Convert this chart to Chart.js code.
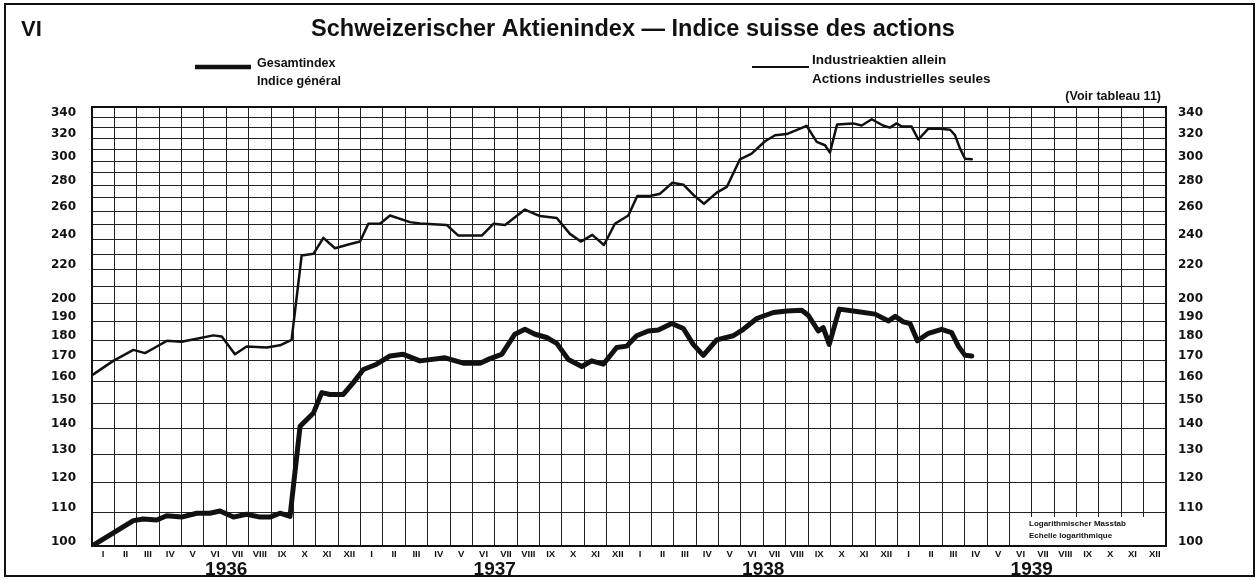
<!DOCTYPE html>
<html>
<head>
<meta charset="utf-8">
<script src="https://cdn.jsdelivr.net/npm/chart.js@4"></script>
<style>
  html, body { margin: 0; padding: 0; background: #fff; }
  #wrap { position: relative; width: 1257px; height: 580px; }
</style>
</head>
<body>
<div id="wrap"><canvas id="chart" width="1257" height="580"></canvas></div>
<script>
// month labels under each column, years under each block of 12
const months = ['I', 'II', 'III', 'IV', 'V', 'VI', 'VII', 'VIII', 'IX', 'X', 'XI', 'XII']
const years = ['1936', '1937', '1938', '1939']

// log scale: grid every 10, labels every 10 up to 200 then every 20
const yGrid = [100, 110, 120, 130, 140, 150, 160, 170, 180, 190, 200, 210, 220, 230, 240, 250, 260, 270, 280, 290, 300, 310, 320, 330, 340, 350]
const yLabels = [100, 110, 120, 130, 140, 150, 160, 170, 180, 190, 200, 220, 240, 260, 280, 300, 320, 340]

// time in months since 1 Jan 1936, index values
const gesamtT = [0, 1.85, 2.29, 2.89, 3.34, 4.0, 4.68, 5.27, 5.72, 6.32, 6.91, 7.51, 7.96, 8.4, 8.85,
  9.3, 9.9, 10.27, 10.64, 11.23, 11.68, 12.13, 12.72, 13.32, 13.91, 14.66, 15.78, 16.6, 17.34, 17.79,
  18.31, 18.9, 19.35, 19.8, 20.32, 20.77, 21.29, 21.89, 22.33, 22.85, 23.45, 23.9, 24.34, 24.86, 25.31,
  25.91, 26.43, 26.87, 27.32, 27.92, 28.66, 29.11, 29.71, 30.45, 31.05, 31.72, 32.01, 32.46, 32.68, 32.95,
  33.4, 34.18, 35.0, 35.6, 35.9, 36.26, 36.56, 36.89, 37.38, 37.97, 38.42, 38.72, 39.02, 39.32]
const gesamtV = [100.0, 107.5, 108.0, 107.7, 109.0, 108.6, 109.8, 109.8, 110.5, 108.6, 109.5, 108.6, 108.6, 109.8, 108.8,
  140.7, 146.2, 154.9, 154.1, 154.1, 159.4, 165.5, 168.0, 172.0, 172.8, 169.6, 171.1, 168.5, 168.5, 170.7,
  172.8, 183.0, 185.6, 183.0, 181.3, 178.3, 170.3, 166.9, 169.6, 168.0, 176.2, 176.9, 182.2, 184.7, 185.2,
  188.7, 186.0, 177.8, 172.3, 180.1, 182.2, 185.6, 191.4, 194.7, 195.6, 196.0, 193.2, 184.7, 186.5, 177.8,
  196.6, 195.3, 193.8, 190.1, 192.6, 189.6, 188.7, 179.6, 183.5, 185.6, 183.8, 176.9, 172.3, 172.0]

const industrieT = [0.06, 0.95, 1.85, 2.37, 2.82, 3.34, 4.0, 4.68, 5.42, 5.8, 6.39, 6.91, 7.81, 8.4, 8.92,
  9.37, 9.9, 10.34, 10.86, 11.46, 11.98, 12.35, 12.87, 13.32, 14.21, 14.66, 15.85, 16.37, 17.42, 17.94,
  18.46, 19.35, 20.02, 20.77, 21.36, 21.85, 22.36, 22.88, 23.37, 23.97, 24.37, 24.94, 25.39, 25.94, 26.43,
  26.87, 27.35, 27.92, 28.37, 28.96, 29.48, 30.08, 30.53, 31.05, 31.94, 32.39, 32.76, 32.98, 33.3, 34.02,
  34.4, 34.85, 35.35, 35.66, 35.96, 36.19, 36.63, 36.93, 37.38, 37.9, 38.35, 38.57, 38.79, 39.02, 39.32]
const industrieV = [163.2, 169.6, 175.0, 173.4, 176.2, 179.6, 179.1, 180.7, 182.4, 181.8, 172.8, 176.7, 176.2, 177.3, 180.1,
  229.1, 230.2, 240.9, 233.9, 236.4, 238.4, 250.8, 250.8, 256.8, 252.0, 251.0, 250.0, 242.5, 242.5, 250.8,
  250.0, 261.2, 256.4, 255.0, 243.7, 238.4, 243.0, 236.1, 250.8, 256.8, 271.5, 271.5, 273.3, 282.0, 280.4,
  272.5, 265.6, 274.1, 278.6, 301.5, 306.4, 317.4, 322.9, 324.0, 331.7, 316.8, 313.8, 307.3, 333, 334,
  332, 338, 332, 330, 334, 331, 331, 319, 329, 329, 328, 323, 311, 302, 301.5]

const TXT = '"Liberation Sans", Arial, sans-serif'
const NUM = '"DejaVu Sans", sans-serif'
const INK = '#111'

// title, legend, notes and frames drawn around the plot
const decor = {
  id: 'decor',
  beforeDraw(chart) {
    const ctx = chart.ctx
    ctx.save()
    ctx.fillStyle = '#fff'
    ctx.fillRect(0, 0, chart.width, chart.height)
    ctx.restore()
  },
  afterDraw(chart) {
    const ctx = chart.ctx
    const a = chart.chartArea
    ctx.save()
    ctx.fillStyle = INK
    ctx.strokeStyle = INK

    // note box in the bottom right corner
    ctx.fillStyle = '#fff'
    ctx.fillRect(a.right - 141, a.bottom - 29, 141, 29)
    ctx.fillStyle = INK
    ctx.font = 'bold 8px ' + TXT
    ctx.textAlign = 'left'
    ctx.textBaseline = 'alphabetic'
    ctx.fillText('Logarithmischer Masstab', a.right - 137, a.bottom - 20)
    ctx.fillText('Echelle logarithmique', a.right - 137, a.bottom - 8)

    // plot frame
    ctx.lineWidth = 2
    ctx.strokeRect(a.left, a.top, a.right - a.left, a.bottom - a.top)

    // outer frame
    ctx.strokeRect(5, 4, chart.width - 8, chart.height - 8)

    // title
    ctx.font = 'bold 23.5px ' + TXT
    ctx.textAlign = 'center'
    ctx.fillText('Schweizerischer Aktienindex \u2014 Indice suisse des actions', 633, 36)
    ctx.textAlign = 'left'
    ctx.font = 'bold 22px ' + TXT
    ctx.fillText('VI', 21, 36)

    // legend
    ctx.lineCap = 'butt'
    ctx.lineWidth = 4.5
    ctx.beginPath(); ctx.moveTo(195, 67); ctx.lineTo(251, 67); ctx.stroke()
    ctx.lineWidth = 2
    ctx.beginPath(); ctx.moveTo(752, 67); ctx.lineTo(809, 67); ctx.stroke()

    ctx.font = 'bold 12.5px ' + TXT
    ctx.fillText('Gesamtindex', 257, 67)
    ctx.fillText('Indice g\u00e9n\u00e9ral', 257, 85)
    ctx.font = 'bold 13.5px ' + TXT
    ctx.fillText('Industrieaktien allein', 812, 64)
    ctx.fillText('Actions industrielles seules', 812, 83)
    ctx.font = 'bold 12.5px ' + TXT
    ctx.textAlign = 'right'
    ctx.fillText('(Voir tableau 11)', 1161, 100)
    ctx.restore()
  }
}

const points = (t, v) => t.map((x, i) => ({ x: x, y: v[i] }))

const fixTicks = (vals) => (scale) => {
  scale.ticks = vals.map(v => ({ value: v }))
}

const monthGrid = Array.from({ length: 49 }, (_, i) => i)
const monthMid = Array.from({ length: 48 }, (_, i) => i + 0.5)
const yearMid = years.map((_, i) => i * 12 + 6)

new Chart(document.getElementById('chart'), {
  type: 'line',
  data: {
    datasets: [
      {
        label: 'Gesamtindex',
        data: points(gesamtT, gesamtV),
        borderColor: INK,
        borderWidth: 5,
        pointRadius: 0,
        tension: 0,
        borderJoinStyle: 'round',
        borderCapStyle: 'round'
      },
      {
        label: 'Industrieaktien allein',
        data: points(industrieT, industrieV),
        borderColor: INK,
        borderWidth: 2.5,
        pointRadius: 0,
        tension: 0,
        borderJoinStyle: 'round',
        borderCapStyle: 'round'
      }
    ]
  },
  options: {
    responsive: false,
    animation: false,
    maintainAspectRatio: false,
    layout: { padding: { top: 107, left: 0, right: 0, bottom: 0 } },
    plugins: {
      legend: { display: false },
      title: { display: false },
      tooltip: { enabled: false }
    },
    scales: {
      x: {
        type: 'linear',
        position: 'bottom',
        min: 0,
        max: 48,
        afterBuildTicks: fixTicks(monthGrid),
        afterFit: (s) => { s.height = 0 },
        ticks: { display: false, autoSkip: false },
        grid: { color: '#222', lineWidth: 1, drawTicks: false },
        border: { display: false }
      },
      xm: {
        type: 'linear',
        position: 'bottom',
        min: 0,
        max: 48,
        afterBuildTicks: fixTicks(monthMid),
        afterFit: (s) => { s.height = 12 },
        ticks: {
          autoSkip: false,
          maxRotation: 0,
          minRotation: 0,
          padding: 3,
          color: INK,
          font: { family: TXT, size: 9.5, weight: 'bold' },
          callback: (v, i) => months[i % 12]
        },
        grid: { display: false, drawTicks: false },
        border: { display: false }
      },
      xy: {
        type: 'linear',
        position: 'bottom',
        min: 0,
        max: 48,
        afterBuildTicks: fixTicks(yearMid),
        afterFit: (s) => { s.height = 22 },
        ticks: {
          autoSkip: false,
          maxRotation: 0,
          minRotation: 0,
          padding: 0,
          color: INK,
          font: { family: TXT, size: 19, weight: 'bold' },
          callback: (v, i) => years[i]
        },
        grid: { display: false, drawTicks: false },
        border: { display: false }
      },
      y: {
        type: 'logarithmic',
        position: 'left',
        min: 100,
        max: 350,
        afterBuildTicks: fixTicks(yGrid),
        afterFit: (s) => { s.width = 92 },
        ticks: {
          autoSkip: false,
          padding: 16,
          labelOffset: -4.5,
          color: INK,
          font: { family: NUM, size: 12, weight: 'bold' },
          callback: (v) => yLabels.includes(v) ? String(v) : ''
        },
        grid: { color: '#222', lineWidth: 1, drawTicks: false },
        border: { display: false }
      },
      y2: {
        type: 'logarithmic',
        position: 'right',
        min: 100,
        max: 350,
        afterBuildTicks: fixTicks(yGrid),
        afterFit: (s) => { s.width = 91 },
        ticks: {
          autoSkip: false,
          padding: 12,
          labelOffset: -4.5,
          color: INK,
          font: { family: NUM, size: 12, weight: 'bold' },
          callback: (v) => yLabels.includes(v) ? String(v) : ''
        },
        grid: { display: false, drawTicks: false },
        border: { display: false }
      }
    }
  },
  plugins: [decor]
})
</script>
</body>
</html>
